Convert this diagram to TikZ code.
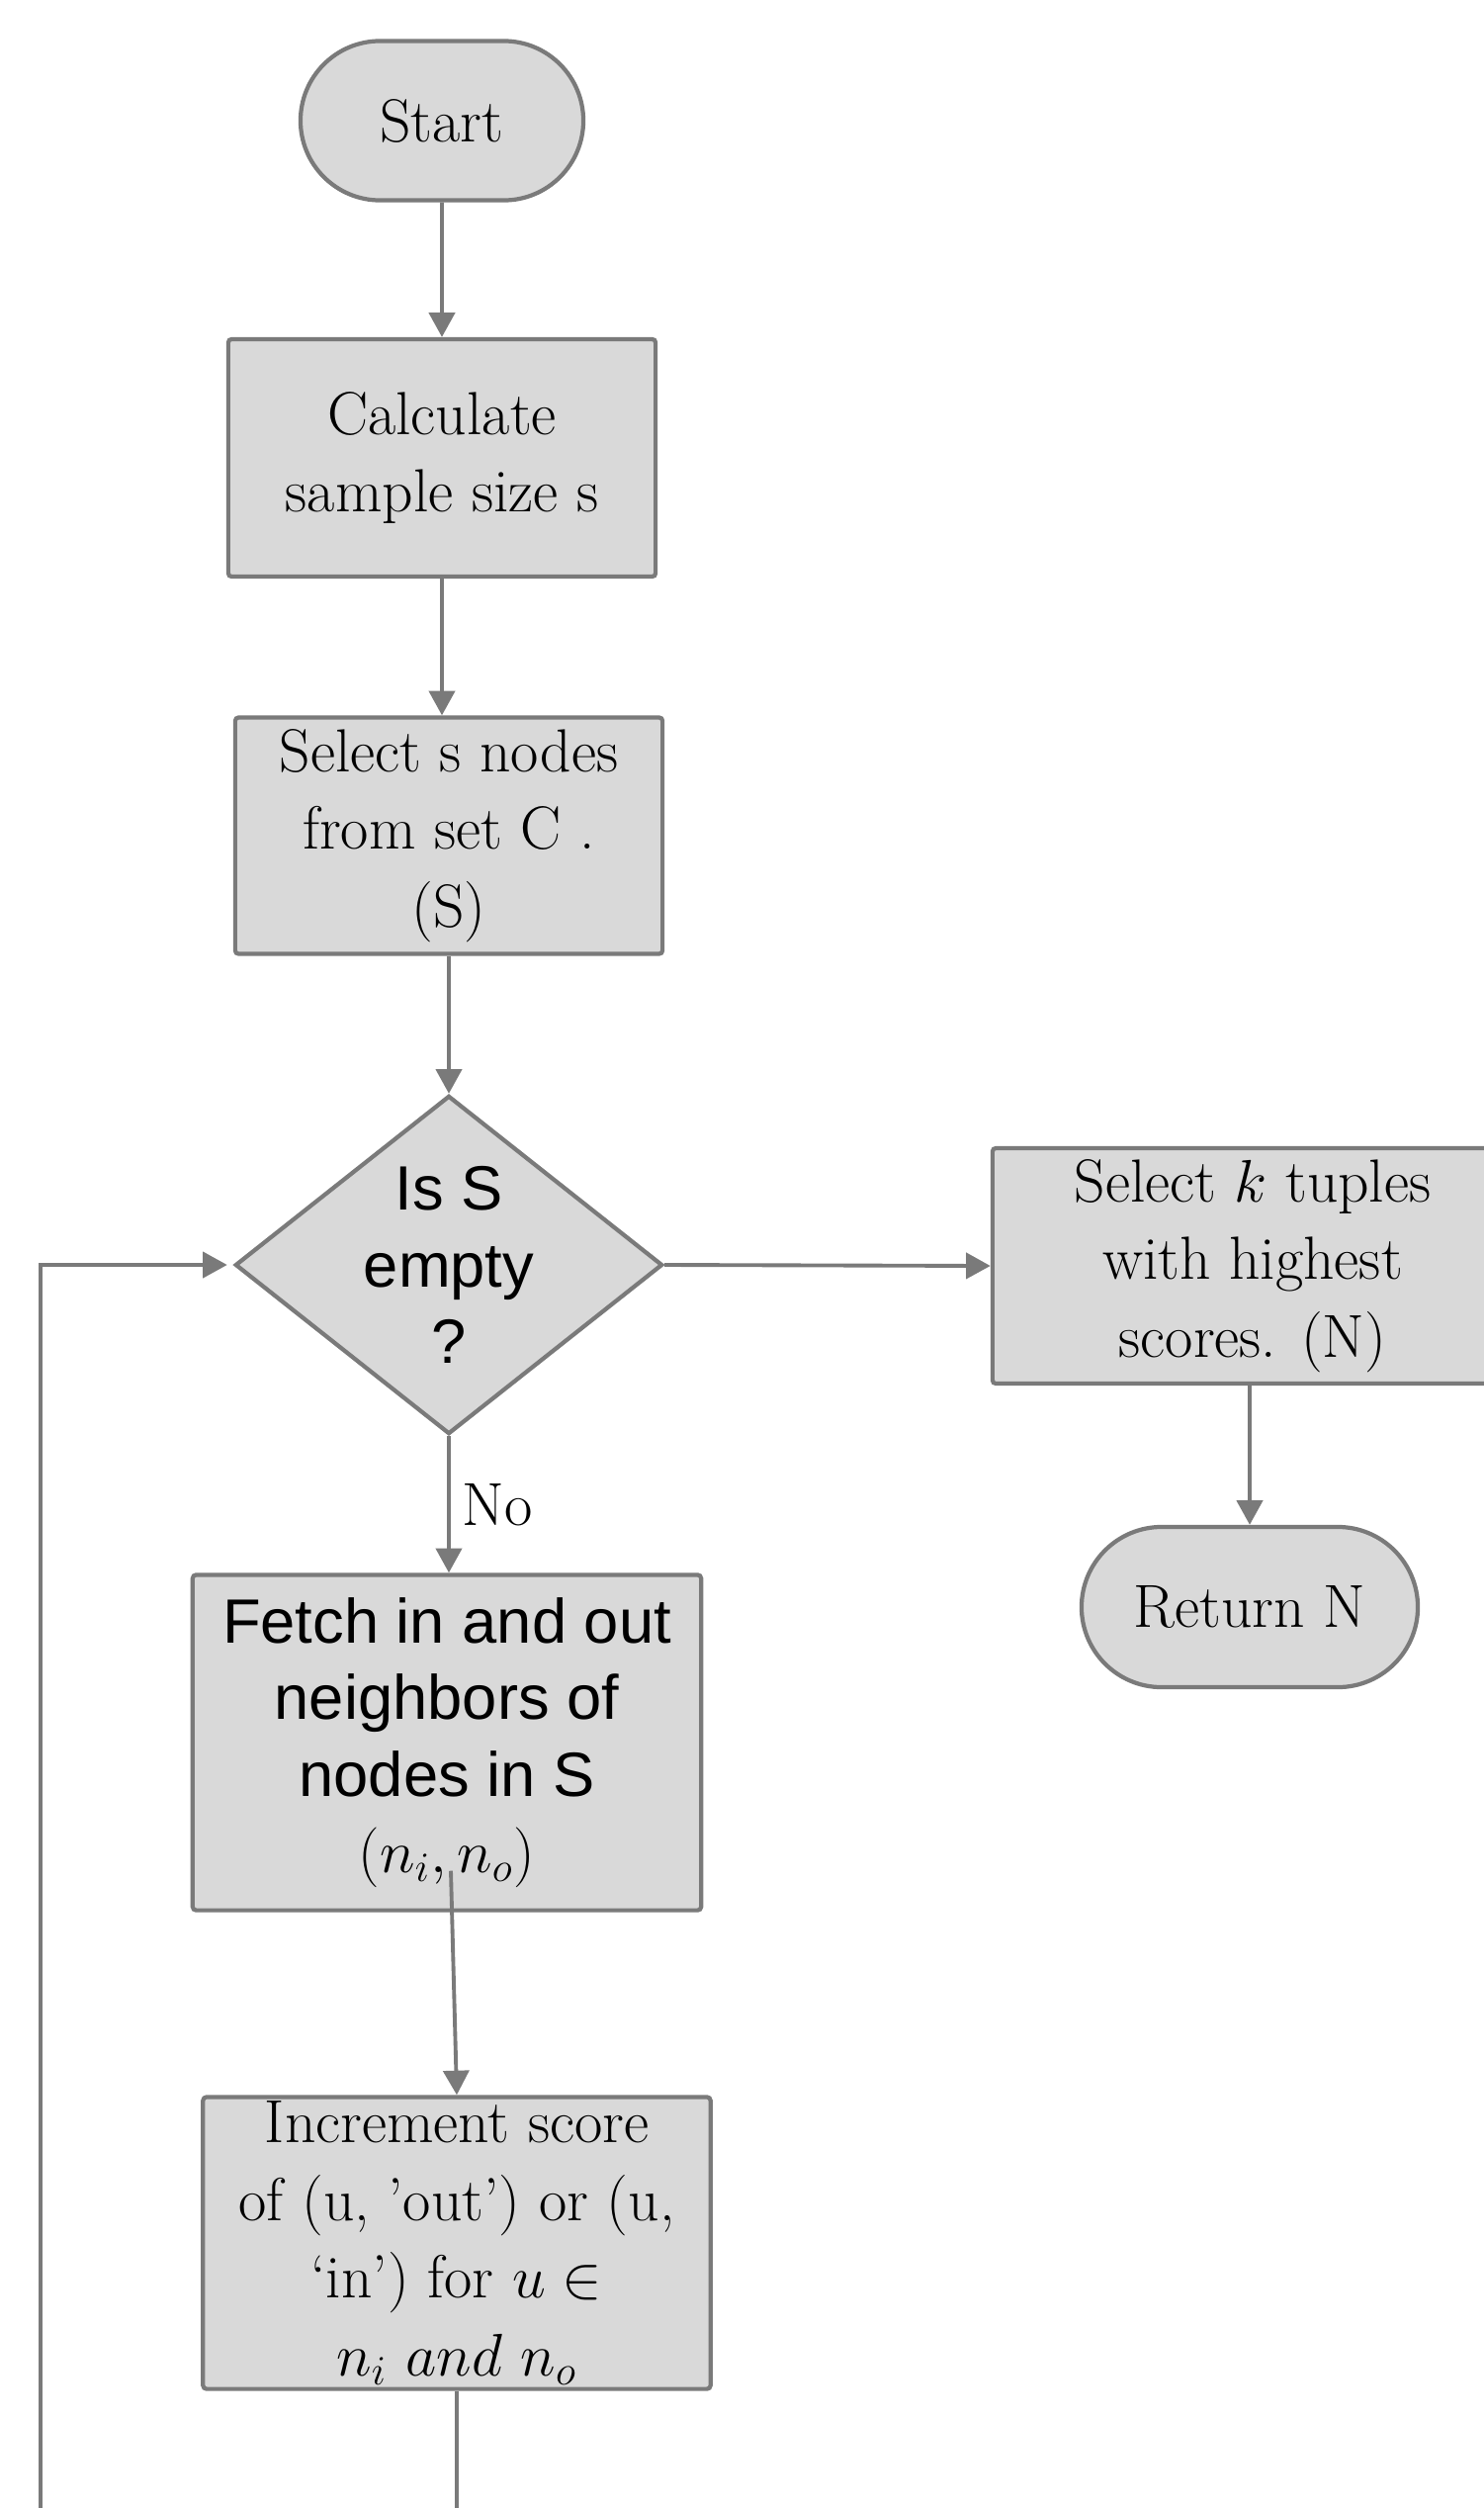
\documentclass[tikz,border=0pt]{standalone}
\usepackage{fontspec}
\newfontfamily\flowsansfont{Liberation Sans}
\usepackage{tikz}
\usetikzlibrary{arrows.meta,shapes.geometric,shapes.misc}
\definecolor{FlowGray}{RGB}{122,122,122}
\definecolor{FlowFill}{RGB}{217,217,217}
\newcommand{\flowserif}{\fontsize{17.5}{22.4}\selectfont}
\newcommand{\flowsans}{\flowsansfont\fontsize{18}{22}\selectfont}
\tikzset{
  flow/box/.style={
    draw=FlowGray,
    line width=1.2pt,
    rounded corners=1pt,
    fill=FlowFill,
    align=center,
    text=black,
    inner sep=2pt,
    font=\flowserif
  },
  flow/terminal/.style={
    rounded rectangle,
    draw=FlowGray,
    line width=1.2pt,
    fill=FlowFill,
    align=center,
    text=black,
    inner sep=2pt,
    font=\flowserif
  },
  flow/decision/.style={
    diamond,
    draw=FlowGray,
    line width=1.2pt,
    fill=FlowFill,
    inner sep=0pt
  },
  flow/decisiontext/.style={align=center, text=black, font=\flowsans},
  flow/arrow/.style={-{Triangle[length=7pt,width=7.4pt]}, line width=1.1pt, draw=FlowGray},
  flow/label/.style={font=\flowserif, text=black}
}

\begin{document}
\begin{tikzpicture}[x=0.01cm,y=-0.01cm]
  \useasboundingbox (0,0) rectangle (1501,2536);
  \clip (0,0) rectangle (1501,2536);
  \node[flow/terminal,minimum width=3cm,minimum height=1.61cm] (start) at (447,122) {Start};
  \node[flow/box,minimum width=4.32cm,minimum height=2.4cm] (calc) at (447,463) {Calculate\\sample size s};
  \node[flow/box,minimum width=4.32cm,minimum height=2.39cm] (pick) at (454,845) {Select s nodes\\from set C .\\(S)};
  \node[flow/decision,minimum width=4.32cm,minimum height=3.42cm,
        label={[flow/decisiontext,name=emptytext]center:Is S\\empty\\?}] (empty) at (454,1279) {};
  \node[flow/box,minimum width=5.26cm,minimum height=2.38cm] (topk) at (1267,1280) {Select $k$ tuples\\with highest\\scores. (N)};
  \node[flow/terminal,minimum width=3.54cm,minimum height=1.62cm] (ret) at (1264,1625) {Return N};
  \node[flow/box,font=\flowsans,minimum width=5.14cm,minimum height=3.39cm] (fetch) at (452,1762) {Fetch in and out\\neighbors of\\nodes in S\\{\flowserif$(n_i,n_o)$}};
  \node[flow/box,inner ysep=0pt,minimum width=5.13cm,minimum height=2.95cm] (incr) at (462,2268) {Increment score\\of (u, ’out’) or (u,\\‘in’) for $u \in$\\$n_i\ and\ n_o$};
  \coordinate (loopcorner) at (41,2620);
  \draw[flow/arrow] (start) -- (calc);
  \draw[flow/arrow] (calc) -- (calc |- pick.north);
  \draw[flow/arrow] (pick) -- (empty);
  \draw[flow/arrow] (empty.east) -- (topk.west);
  \draw[flow/arrow] (ret |- topk.south) -- (ret);
  \draw[flow/arrow] (empty.south) -- node[flow/label,right] (nolabel) {No} (empty.south |- fetch.north);
  \draw[flow/arrow] ([shift={(4,-42)}]fetch.south) -- (incr.north);
  \draw[flow/arrow,shorten >=0.06cm] (incr.south) |- (loopcorner) |- (empty.west);
\end{tikzpicture}
\end{document}
